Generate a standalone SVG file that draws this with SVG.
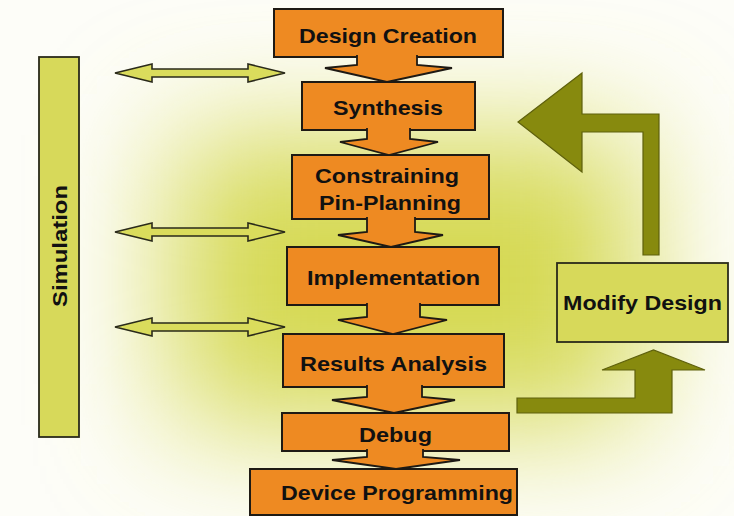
<svg xmlns="http://www.w3.org/2000/svg" width="734" height="516" viewBox="0 0 734 516">
  <defs>
    <filter id="soften" x="-60%" y="-60%" width="220%" height="220%">
      <feGaussianBlur stdDeviation="62"/>
    </filter>
    <style>
      .step { fill: #ee8a22; stroke: #1e1a14; stroke-width: 2; }
      .flow { fill: #ee8a22; stroke: #1e1a14; stroke-width: 1.8; stroke-linejoin: miter; }
      .lime { fill: #d7d95a; stroke: #2a2a1a; stroke-width: 1.8; }
      .dbl { fill: #dadc5c; stroke: #2a2a1a; stroke-width: 1.6; stroke-linejoin: miter; }
      .olive { fill: #878a0e; stroke: #5e600c; stroke-width: 1.2; }
      .lbl { font-family: "Liberation Sans", Arial, sans-serif; font-weight: bold; font-size: 21px; fill: #111; }
    </style>
  </defs>

  <!-- soft yellow backdrop -->
  <rect x="0" y="0" width="734" height="516" fill="#fdfdf8"/>
  <rect x="170" y="135" width="470" height="290" fill="#d5d952" filter="url(#soften)"/>

  <!-- Simulation bar -->
  <g id="simulation">
    <rect class="lime" x="39" y="57" width="40" height="380" stroke-width="1.2"/>
    <text class="lbl" transform="translate(67 246) rotate(-90)" text-anchor="middle" textLength="122" lengthAdjust="spacingAndGlyphs">Simulation</text>
  </g>

  <!-- Flow steps -->
  <g id="design-creation">
    <rect class="step" x="274" y="9" width="229" height="48"/>
    <text class="lbl" x="388" y="43" text-anchor="middle" textLength="178" lengthAdjust="spacingAndGlyphs">Design Creation</text>
  </g>
  <g id="synthesis">
    <rect class="step" x="302" y="82" width="173" height="48"/>
    <text class="lbl" x="388" y="115" text-anchor="middle" textLength="110" lengthAdjust="spacingAndGlyphs">Synthesis</text>
  </g>
  <g id="constraining">
    <rect class="step" x="292" y="155" width="197" height="64"/>
    <text class="lbl" x="387" y="183" text-anchor="middle" textLength="144" lengthAdjust="spacingAndGlyphs">Constraining</text>
    <text class="lbl" x="390" y="210" text-anchor="middle" textLength="142" lengthAdjust="spacingAndGlyphs">Pin-Planning</text>
  </g>
  <g id="implementation">
    <rect class="step" x="287" y="247" width="212" height="58"/>
    <text class="lbl" x="393.5" y="285" text-anchor="middle" textLength="173" lengthAdjust="spacingAndGlyphs">Implementation</text>
  </g>
  <g id="results-analysis">
    <rect class="step" x="283" y="334" width="221" height="53"/>
    <text class="lbl" x="393.5" y="371" text-anchor="middle" textLength="187" lengthAdjust="spacingAndGlyphs">Results Analysis</text>
  </g>
  <g id="debug">
    <rect class="step" x="282" y="413" width="227" height="38"/>
    <text class="lbl" x="395.5" y="442" text-anchor="middle" textLength="73" lengthAdjust="spacingAndGlyphs">Debug</text>
  </g>
  <g id="device-programming">
    <rect class="step" x="250" y="469" width="267" height="46"/>
    <text class="lbl" x="397" y="500" text-anchor="middle" textLength="232" lengthAdjust="spacingAndGlyphs">Device Programming</text>
  </g>

  <g id="modify-design">
    <rect class="lime" x="557" y="263" width="171" height="79"/>
    <text class="lbl" x="642.5" y="310" text-anchor="middle" textLength="159" lengthAdjust="spacingAndGlyphs">Modify Design</text>
  </g>

  <!-- Connectors -->
  <g id="connectors">
    <!-- block arrows between steps (open at the top so they merge with the box above) -->
    <path class="flow" d="M357,55 L357,65 L325,68 L387,82 L452,68 L417,65 L417,55"/>
    <path class="flow" d="M367,128 L367,139 L340,142 L389,155 L438,142 L410,139 L410,128"/>
    <path class="flow" d="M367,217 L367,232 L338,235 L391,247 L443,235 L415,232 L415,217"/>
    <path class="flow" d="M367,303 L367,317 L338,320 L393,334 L447,320 L420,317 L420,303"/>
    <path class="flow" d="M367,385 L367,397 L332,400 L394,413 L455,400 L422,397 L422,385"/>
    <path class="flow" d="M367,449 L367,457 L332,460 L396,469 L460,460 L423,457 L423,449"/>

    <!-- simulation links -->
    <polygon class="dbl" points="115,73 152,64 152,69 248,69 248,64 285,73 248,82 248,77 152,77 152,82"/>
    <polygon class="dbl" points="115,232 152,223 152,228 248,228 248,223 285,232 248,241 248,236 152,236 152,241"/>
    <polygon class="dbl" points="115,327 152,318 152,323 248,323 248,318 285,327 248,336 248,331 152,331 152,336"/>

    <!-- feedback loop -->
    <polygon class="olive" points="517,398 635,398 635,370 602,370 653.5,350 705,370 672,370 672,413 517,413"/>
    <polygon class="olive" points="518,122 582,73 582,114 659,114 659,255 643,255 643,132 582,132 582,172"/>
  </g>
</svg>
